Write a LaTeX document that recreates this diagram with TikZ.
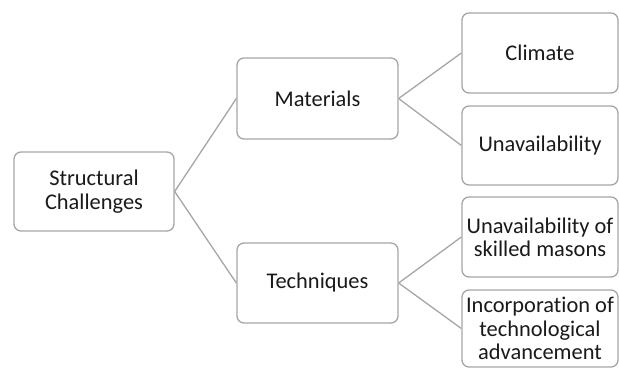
\documentclass[tikz,border=0pt]{standalone}
\usepackage{fontspec}
\setmainfont[Ligatures=NoCommon]{Carlito}
\definecolor{boxline}{HTML}{A6A6A6}
\definecolor{txt}{HTML}{1A1A1A}
\begin{document}
\begin{tikzpicture}[x=1bp,y=-1bp,
  cbox/.style={draw=boxline, line width=1.3bp, rounded corners=7bp, fill=white,
    minimum width=#1, align=center, inner sep=0pt, text=txt,
    font=\fontsize{22.5}{23.5}\selectfont},
  conn/.style={draw=boxline, line width=1.3bp}]
\useasboundingbox (0,0) rectangle (619,369);
\node[cbox=160bp, minimum height=79bp] (sc) at (94,191.5) {Structural\\Challenges};
\node[cbox=161bp, minimum height=81bp] (mat) at (317.5,98.5) {Materials};
\node[cbox=161bp, minimum height=80bp] (tech) at (317.5,283) {Techniques};
\node[cbox=156bp, minimum height=80bp] (cli) at (540,53) {Climate};
\node[cbox=156bp, minimum height=79bp] (una) at (540,145.5) {Unavailability};
\node[cbox=156bp, minimum height=80bp] (mas) at (540,237) {Unavailability of\\skilled masons};
\node[cbox=156bp, minimum height=77bp] (inc) at (540,328.5) {Incorporation of\\technological\\advancement};
\draw[conn] (sc.east) -- (mat.west);
\draw[conn] (sc.east) -- (tech.west);
\draw[conn] (mat.east) -- (cli.west);
\draw[conn] (mat.east) -- (una.west);
\draw[conn] (tech.east) -- (mas.west);
\draw[conn] (tech.east) -- (inc.west);
\end{tikzpicture}
\end{document}
